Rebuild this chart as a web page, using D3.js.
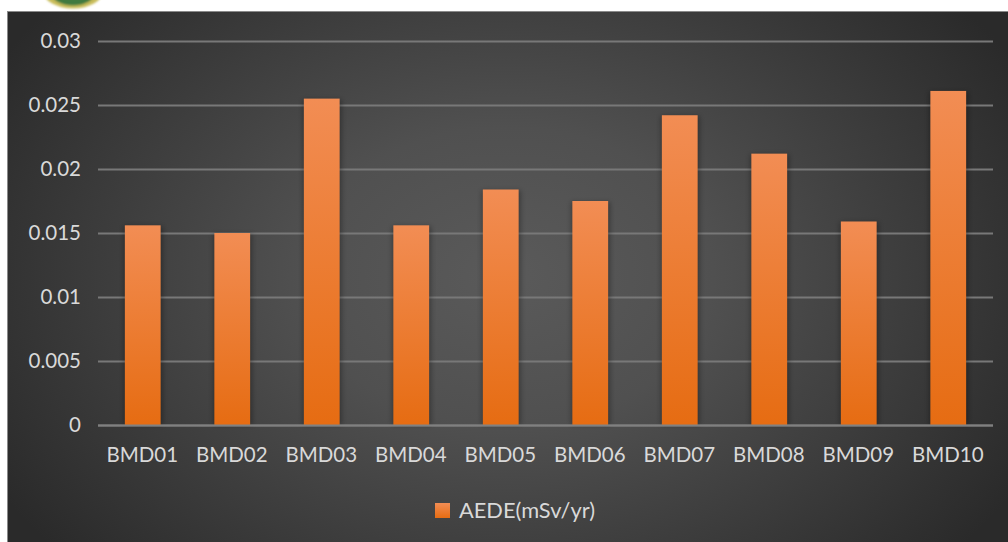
<!DOCTYPE html>
<html>
<head>
<meta charset="utf-8">
<script src="https://cdn.jsdelivr.net/npm/d3@7/dist/d3.min.js"></script>
<style>
html,body{margin:0;padding:0;background:#fff;}
svg{display:block;}
text{font-family:Lato,"Noto Sans",sans-serif;fill:#d9d9d9;}
</style>
</head>
<body>
<svg id="chart" width="1008" height="542"></svg>
<script>
const categories = ["BMD01","BMD02","BMD03","BMD04","BMD05","BMD06","BMD07","BMD08","BMD09","BMD10"];
const aede = [0.0156,0.0150,0.0255,0.0156,0.0184,0.0175,0.0242,0.0212,0.0159,0.0261];
const yTicks = [0,0.005,0.01,0.015,0.02,0.025,0.03];
const seriesName = "AEDE(mSv/yr)";

const svg = d3.select("#chart");
const defs = svg.append("defs");

// Radial backdrop, lighter towards the middle of the panel
const bg = defs.append("radialGradient").attr("id","panelBg")
  .attr("gradientUnits","userSpaceOnUse")
  .attr("cx",507).attr("cy",276).attr("r",590)
  .attr("gradientTransform","translate(507 276) scale(1 0.72) translate(-507 -276)");
bg.append("stop").attr("offset","0%").attr("stop-color","#5a5a5a");
bg.append("stop").attr("offset","35%").attr("stop-color","#505050");
bg.append("stop").attr("offset","100%").attr("stop-color","#2a2a2a");

const barFill = defs.append("linearGradient").attr("id","barFill")
  .attr("x1",0).attr("y1",0).attr("x2",0).attr("y2",1);
barFill.append("stop").attr("offset","0%").attr("stop-color","#f28d54");
barFill.append("stop").attr("offset","100%").attr("stop-color","#e66c12");

const shadow = defs.append("filter").attr("id","barShadow")
  .attr("x","-20%").attr("y","-5%").attr("width","140%").attr("height","110%");
shadow.append("feGaussianBlur").attr("stdDeviation",2.5);

const crestBlur = defs.append("filter").attr("id","crestBlur");
crestBlur.append("feGaussianBlur").attr("stdDeviation",1);

// University crest, cut off by the top edge of the page
const crest = svg.append("g").attr("filter","url(#crestBlur)");
crest.append("ellipse").attr("cx",73).attr("cy",-9).attr("rx",30).attr("ry",17.5).attr("fill","#c8bc5a");
crest.append("ellipse").attr("cx",73).attr("cy",-9).attr("rx",23).attr("ry",14.5).attr("fill","#3f7a3f");

// Panel
svg.append("rect").attr("x",7.5).attr("y",11.5).attr("width",1001).attr("height",531)
  .attr("fill","url(#panelBg)").attr("stroke","#8a8a8a").attr("stroke-width",1);

const x = d3.scaleBand().domain(categories).range([98,993]).paddingInner(0.6).paddingOuter(0.3);
const y = d3.scaleLinear().domain([0,0.03]).range([425,41]);

// Value gridlines
const yAxis = d3.axisLeft(y).tickValues(yTicks).tickFormat(d3.format("~g")).tickSize(-(993-98)).tickPadding(17);
const yG = svg.append("g").attr("transform","translate(98,0)").call(yAxis);
yG.select(".domain").remove();
yG.selectAll("line").attr("stroke","#787878").attr("stroke-width",2);
yG.selectAll("text").attr("font-size",20.5).attr("fill","#d9d9d9").attr("font-family",null);

// Bars with a soft shadow behind them
svg.append("g").selectAll("rect").data(aede).join("rect")
  .attr("x",(d,i)=>x(categories[i])-1)
  .attr("y",d=>y(d)+1)
  .attr("width",x.bandwidth()+3)
  .attr("height",d=>y(0)-y(d)-1)
  .attr("fill","#000").attr("opacity",0.3).attr("filter","url(#barShadow)");
svg.append("g").selectAll("rect").data(aede).join("rect")
  .attr("x",(d,i)=>x(categories[i]))
  .attr("y",d=>y(d))
  .attr("width",x.bandwidth())
  .attr("height",d=>y(0)-y(d))
  .attr("fill","url(#barFill)");

// Category axis
const xAxis = d3.axisBottom(x).tickSize(0).tickPadding(22);
const xG = svg.append("g").attr("transform","translate(-0.5,425)").call(xAxis);
xG.select(".domain").attr("stroke","#808080").attr("stroke-width",2);
xG.selectAll("text").attr("font-size",20.5).attr("fill","#d9d9d9").attr("font-family",null);

// Legend
svg.append("rect").attr("x",435).attr("y",503).attr("width",15).attr("height",15).attr("fill","url(#barFill)");
svg.append("text").attr("x",459).attr("y",518).attr("font-size",21.8).text(seriesName);
</script>
</body>
</html>
